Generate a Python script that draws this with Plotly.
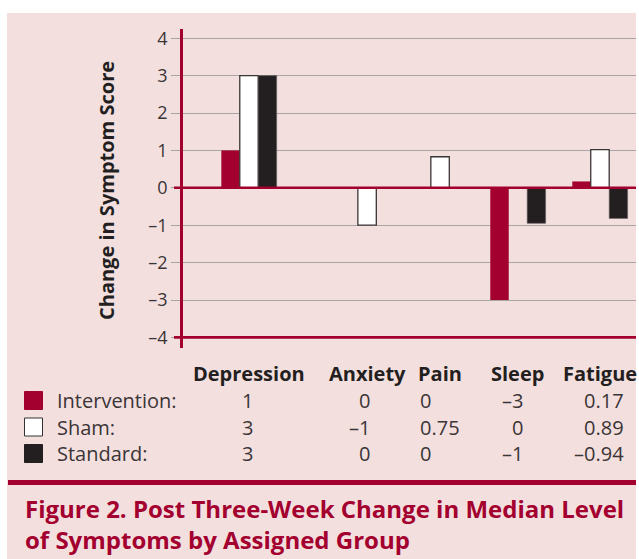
import plotly.graph_objects as go

# ---------------- data ----------------
categories = ["Depression", "Anxiety", "Pain", "Sleep", "Fatigue"]
groups = ["Intervention", "Sham", "Standard"]

# bar heights as drawn in the figure
bar_intervention = [1, 0, 0, -3, 0.17]
bar_sham = [3, -1, 0.83, 0, 1.02]
bar_standard = [3, 0, 0, -0.95, -0.82]

# values printed in the table under the chart
table_intervention = ["1", "0", "0", "–3", "0.17"]
table_sham = ["3", "–1", "0.75", "0", "0.89"]
table_standard = ["3", "0", "0", "–1", "–0.94"]

y_ticks = [4, 3, 2, 1, 0, -1, -2, -3, -4]
y_tick_labels = ["4", "3", "2", "1", "0", "–1", "–2", "–3", "–4"]

# ---------------- layout helpers ----------------
W, H = 639, 559
ML, MR, MT, MB = 183, 3, 29, 211
PW, PH = W - ML - MR, H - MT - MB

def px(x):
    return (x - ML) / PW

def py(y):
    return (H - MB - y) / PH

group_pos = [0, 1.44, 2.33, 3.28, 4.28]
bw = 0.225

CRIMSON = "#a3002f"
PINK = "#f4dfdf"
DARK = "#231f20"
TEXT = "#3a3536"
GRID = "#a8a4a4"
FONT = "Open Sans"

fig = go.Figure()
series = [bar_intervention, bar_sham, bar_standard]
fills = [CRIMSON, "#ffffff", DARK]
lines = [CRIMSON, "#3a3536", "#6b6465"]
lws = [0, 1.3, 0.6]
for i, (name, vals) in enumerate(zip(groups, series)):
    fig.add_trace(go.Bar(
        x=group_pos, y=vals, name=name,
        width=bw, offset=(i - 1.5) * bw,
        marker=dict(color=fills[i], line=dict(color=lines[i], width=lws[i])),
        showlegend=False, hoverinfo="skip",
    ))

shapes = []
# pink panel
shapes.append(dict(type="rect", xref="paper", yref="paper",
                   x0=px(7), x1=px(636), y0=py(559), y1=py(13),
                   fillcolor=PINK, line=dict(width=0), layer="below"))
# zero line and bottom line (crimson)
for yv in (0, -4):
    shapes.append(dict(type="line", xref="paper", yref="y",
                       x0=px(174), x1=1, y0=yv, y1=yv,
                       line=dict(color=CRIMSON, width=2.6), layer="above"))
# separator above caption
shapes.append(dict(type="line", xref="paper", yref="paper",
                   x0=px(8), x1=px(636), y0=py(482.5), y1=py(482.5),
                   line=dict(color=CRIMSON, width=5)))
# legend squares
square_fill = [CRIMSON, "#ffffff", DARK]
square_line = [CRIMSON, "#333333", DARK]
row_y = [400.5, 427, 453.5]
for i in range(3):
    shapes.append(dict(type="rect", xref="paper", yref="paper",
                       x0=px(24.5), x1=px(42.5),
                       y0=py(row_y[i] + 9), y1=py(row_y[i] - 9),
                       fillcolor=square_fill[i],
                       line=dict(color=square_line[i], width=1)))

annotations = []
# y-axis title
annotations.append(dict(text="<b>Change in Symptom Score</b>", xref="paper", yref="paper",
                        x=px(106), y=py(191), textangle=-90, showarrow=False,
                        font=dict(family=FONT, size=20, color=DARK),
                        xanchor="center", yanchor="middle"))
# table header
header_y = 373
for c, gx in zip(categories, group_pos):
    annotations.append(dict(text=f"<b>{c}</b>", xref="x", yref="paper",
                            x=gx, y=py(header_y), showarrow=False,
                            font=dict(family=FONT, size=20, color=DARK),
                            xanchor="center", yanchor="middle"))
# row labels
for i, g in enumerate(groups):
    annotations.append(dict(text=g + ":", xref="paper", yref="paper",
                            x=px(55), y=py(row_y[i]), showarrow=False,
                            font=dict(family=FONT, size=20, color=TEXT),
                            xanchor="left", yanchor="middle"))
# table values
col_anchor = ["center", "right", "left", "right", "right"]
col_shift = [-2, 5, -22, 7, 26]
tables = [table_intervention, table_sham, table_standard]
for i, row in enumerate(tables):
    for j, val in enumerate(row):
        annotations.append(dict(text=val, xref="x", yref="paper",
                                x=group_pos[j], xshift=col_shift[j], y=py(row_y[i]),
                                showarrow=False,
                                font=dict(family=FONT, size=20, color=TEXT),
                                xanchor=col_anchor[j], yanchor="middle"))
# caption
for txt, yy in (("Figure 2. Post Three-Week Change in Median Level", 509),
                ("of Symptoms by Assigned Group", 539)):
    annotations.append(dict(text=f"<b>{txt}</b>", xref="paper", yref="paper",
                            x=px(23), y=py(yy), showarrow=False,
                            font=dict(family=FONT, size=24, color=CRIMSON),
                            xanchor="left", yanchor="middle"))

fig.update_layout(
    width=W, height=H,
    margin=dict(l=ML, r=MR, t=MT, b=MB, pad=0),
    paper_bgcolor="#ffffff",
    plot_bgcolor="rgba(0,0,0,0)",
    barmode="overlay",
    xaxis=dict(range=[(ML - 249) / 82, (W - MR - 249) / 82],
               showgrid=False, zeroline=False, showticklabels=False,
               showline=False, ticks="", fixedrange=True),
    yaxis=dict(range=[(187.8 - (H - MB)) / 37.4, (187.8 - MT) / 37.4],
               tickmode="array", tickvals=y_ticks, ticktext=y_tick_labels,
               showgrid=True, gridcolor=GRID, gridwidth=1.3,
               zeroline=False,
               showline=True, linecolor=CRIMSON, linewidth=2.6,
               ticks="outside", ticklen=9, tickcolor=GRID, tickwidth=1.3,
               tickfont=dict(family=FONT, size=18, color=TEXT),
               fixedrange=True),
    shapes=shapes,
    annotations=annotations,
    font=dict(family=FONT),
)

fig.write_html(
    "out.html",
    config={"displayModeBar": False},
    post_script="document.body.style.margin='0';document.body.style.padding='0';"
                "document.documentElement.style.overflow='hidden';",
)
